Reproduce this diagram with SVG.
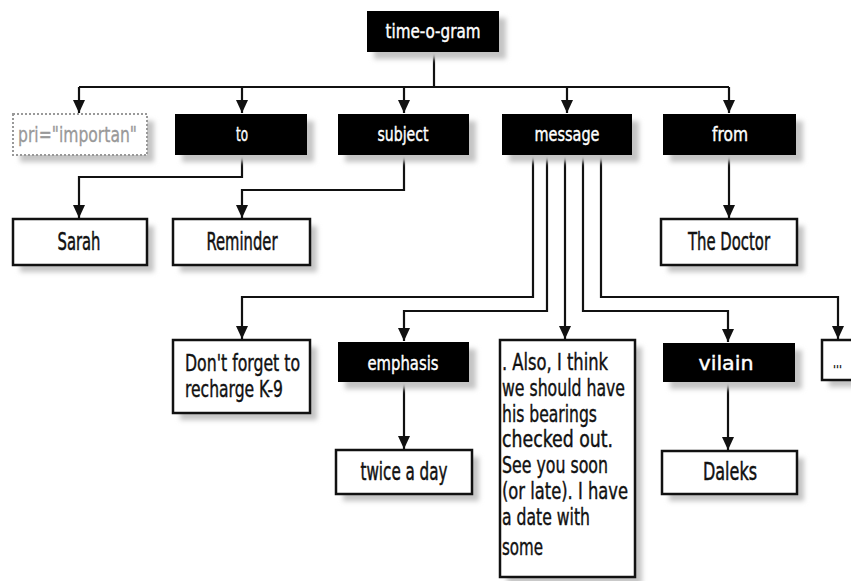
<svg xmlns="http://www.w3.org/2000/svg" width="851" height="581" viewBox="0 0 851 581">
<style>
.blk{fill:#000;}
.wht{fill:#fff;stroke:#111;stroke-width:2.5;}
.dot{fill:#fff;stroke:#999;stroke-width:2;stroke-dasharray:2 2;}
.sh{fill:#c4c4c4;filter:url(#blur);}
text{font-family:"DejaVu Sans Condensed","Liberation Sans Narrow","Liberation Sans",sans-serif;}
.lw{fill:#fff;stroke:#fff;stroke-width:0.4;font-size:20px;text-anchor:middle;}
.lb{fill:#111;stroke:#111;stroke-width:0.5;font-size:25px;text-anchor:middle;}
.lt{fill:#111;stroke:#111;stroke-width:0.4;font-size:23px;}
.lg{fill:#999;stroke:#999;stroke-width:0.3;font-size:21px;}
.c{fill:none;stroke:#111;stroke-width:2.2;}
</style>
<defs>
<filter id="blur" x="-20%" y="-20%" width="140%" height="140%"><feGaussianBlur stdDeviation="2.5"/></filter>
<marker id="ah" markerUnits="userSpaceOnUse" markerWidth="13" markerHeight="12" refX="13" refY="6" orient="auto"><path d="M0,0 L13,6 L0,12 z" fill="#111"/></marker>
</defs>
<rect width="851" height="581" fill="#fff"/>

<g id="connectors">
<path class="c" d="M434,52 V87"/>
<path class="c" d="M79,87 H729"/>
<path class="c" d="M79,87 V113" marker-end="url(#ah)"/>
<path class="c" d="M242,87 V113" marker-end="url(#ah)"/>
<path class="c" d="M404,87 V113" marker-end="url(#ah)"/>
<path class="c" d="M567,87 V113" marker-end="url(#ah)"/>
<path class="c" d="M729,87 V113" marker-end="url(#ah)"/>
<path class="c" d="M242,155 V177 H79 V218" marker-end="url(#ah)"/>
<path class="c" d="M404,155 V190 H242 V218" marker-end="url(#ah)"/>
<path class="c" d="M729,155 V218" marker-end="url(#ah)"/>
<path class="c" d="M533,155 V297 H242 V339" marker-end="url(#ah)"/>
<path class="c" d="M547,155 V311 H404 V341" marker-end="url(#ah)"/>
<path class="c" d="M565,155 V339" marker-end="url(#ah)"/>
<path class="c" d="M583,155 V311 H728 V342" marker-end="url(#ah)"/>
<path class="c" d="M601,155 V297 H838 V339" marker-end="url(#ah)"/>
<path class="c" d="M404,382 V449" marker-end="url(#ah)"/>
<path class="c" d="M728,382 V450" marker-end="url(#ah)"/>
</g>

<g id="time-o-gram">
<rect class="sh" x="374" y="18" width="132" height="41"/>
<rect class="blk" x="367" y="11" width="132" height="41"/>
<text class="lw" x="433" y="38" textLength="95" lengthAdjust="spacingAndGlyphs">time-o-gram</text>
</g>

<g id="pri">
<rect class="sh" x="20" y="121" width="134" height="41"/>
<rect class="dot" x="13" y="114" width="134" height="41"/>
<text class="lg" x="18" y="142" textLength="119" lengthAdjust="spacingAndGlyphs">pri="importan"</text>
</g>

<g id="to">
<rect class="sh" x="182" y="121" width="132" height="41"/>
<rect class="blk" x="175" y="114" width="132" height="41"/>
<text class="lw" x="242" y="141" textLength="12" lengthAdjust="spacingAndGlyphs">to</text>
</g>

<g id="subject">
<rect class="sh" x="345" y="121" width="131" height="41"/>
<rect class="blk" x="338" y="114" width="131" height="41"/>
<text class="lw" x="403" y="141" textLength="51" lengthAdjust="spacingAndGlyphs">subject</text>
</g>

<g id="message">
<rect class="sh" x="509" y="121" width="130" height="41"/>
<rect class="blk" x="502" y="114" width="130" height="41"/>
<text class="lw" x="567" y="141" textLength="65" lengthAdjust="spacingAndGlyphs">message</text>
</g>

<g id="from">
<rect class="sh" x="670" y="121" width="133" height="41"/>
<rect class="blk" x="663" y="114" width="133" height="41"/>
<text class="lw" x="730" y="141" textLength="36" lengthAdjust="spacingAndGlyphs">from</text>
</g>

<g id="sarah">
<rect class="sh" x="20" y="226" width="134" height="46"/>
<rect class="wht" x="13" y="219" width="134" height="46"/>
<text class="lb" x="79" y="250" textLength="43" lengthAdjust="spacingAndGlyphs">Sarah</text>
</g>

<g id="reminder">
<rect class="sh" x="180" y="226" width="137" height="46"/>
<rect class="wht" x="173" y="219" width="137" height="46"/>
<text class="lb" x="242" y="250" textLength="71" lengthAdjust="spacingAndGlyphs">Reminder</text>
</g>

<g id="the-doctor">
<rect class="sh" x="668" y="226" width="136" height="46"/>
<rect class="wht" x="661" y="219" width="136" height="46"/>
<text class="lb" x="729" y="250" textLength="82" lengthAdjust="spacingAndGlyphs">The Doctor</text>
</g>

<g id="dont-forget">
<rect class="sh" x="180" y="347" width="137" height="73"/>
<rect class="wht" x="173" y="340" width="137" height="73"/>
<text class="lt" x="185" y="371" textLength="115" lengthAdjust="spacingAndGlyphs">Don't forget to</text>
<text class="lt" x="185" y="397" textLength="98" lengthAdjust="spacingAndGlyphs">recharge K-9</text>
</g>

<g id="emphasis">
<rect class="sh" x="345" y="349" width="131" height="40"/>
<rect class="blk" x="338" y="342" width="131" height="40"/>
<text class="lw" x="403" y="370" textLength="71" lengthAdjust="spacingAndGlyphs">emphasis</text>
</g>

<g id="twice-a-day">
<rect class="sh" x="343" y="457" width="136" height="44"/>
<rect class="wht" x="336" y="450" width="136" height="44"/>
<text class="lb" x="404" y="480" textLength="87" lengthAdjust="spacingAndGlyphs">twice a day</text>
</g>

<g id="message-text">
<rect class="sh" x="507" y="347" width="135" height="237"/>
<rect class="wht" x="500" y="340" width="135" height="237"/>
<text class="lt" x="502" y="370" textLength="106" lengthAdjust="spacingAndGlyphs">. Also, I think</text>
<text class="lt" x="502" y="396" textLength="123" lengthAdjust="spacingAndGlyphs">we should have</text>
<text class="lt" x="502" y="422" textLength="95" lengthAdjust="spacingAndGlyphs">his bearings</text>
<text class="lt" x="502" y="447" textLength="111" lengthAdjust="spacingAndGlyphs">checked out.</text>
<text class="lt" x="502" y="473" textLength="106" lengthAdjust="spacingAndGlyphs">See you soon</text>
<text class="lt" x="502" y="499" textLength="126" lengthAdjust="spacingAndGlyphs">(or late). I have</text>
<text class="lt" x="502" y="525" textLength="88" lengthAdjust="spacingAndGlyphs">a date with</text>
<text class="lt" x="502" y="555" textLength="41" lengthAdjust="spacingAndGlyphs">some</text>
</g>

<g id="vilain">
<rect class="sh" x="670" y="350" width="132" height="39"/>
<rect class="blk" x="663" y="343" width="132" height="39"/>
<text class="lw" x="726" y="370" textLength="55" lengthAdjust="spacingAndGlyphs">vilain</text>
</g>

<g id="daleks">
<rect class="sh" x="669" y="458" width="135" height="43"/>
<rect class="wht" x="662" y="451" width="135" height="43"/>
<text class="lb" x="730" y="480" textLength="54" lengthAdjust="spacingAndGlyphs">Daleks</text>
</g>

<g id="ellipsis">
<rect class="sh" x="829" y="347" width="40" height="40"/>
<rect class="wht" x="822" y="340" width="40" height="40"/>
<text class="lt" x="833" y="368" font-size="14" textLength="9" lengthAdjust="spacingAndGlyphs">...</text>
</g>
</svg>
